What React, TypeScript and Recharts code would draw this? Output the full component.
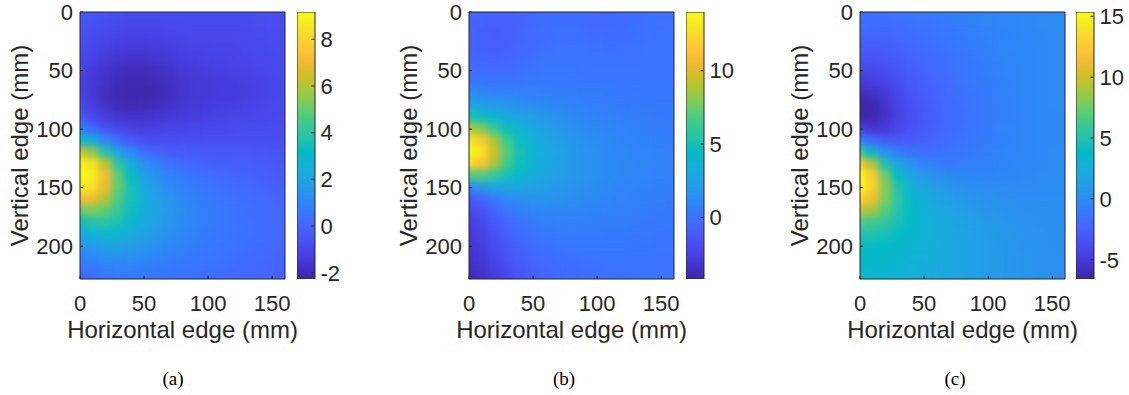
import React from 'react';
import { ScatterChart, Scatter, XAxis, YAxis, BarChart, Bar } from 'recharts';

// ---------- data ----------
const xPositions = [0, 10, 20, 30, 40, 50, 60, 70, 80, 90, 100, 110, 120, 130, 140, 150, 160];
const yPositions = [0, 10, 20, 30, 40, 50, 60, 70, 80, 90, 100, 110, 120, 130, 140, 150, 160, 170, 180, 190, 200, 210, 220, 230];
const xTicks = [0, 50, 100, 150];
const yTicks = [0, 50, 100, 150, 200];
const xDomain = [0, 160];
const yDomain = [0, 228];

// rows follow yPositions, columns follow xPositions
const valuesA = [
  [-0.45, -0.55, -0.65, -0.75, -0.8, -0.8, -0.8, -0.8, -0.8, -0.8, -0.8, -0.8, -0.8, -0.8, -0.8, -0.8, -0.8],
  [-0.55, -0.65, -0.8, -0.9, -1.0, -1.0, -1.0, -0.95, -0.9, -0.9, -0.9, -0.9, -0.9, -0.9, -0.85, -0.8, -0.8],
  [-0.7, -0.85, -1.0, -1.1, -1.2, -1.2, -1.15, -1.1, -1.05, -1.0, -1.0, -1.0, -1.0, -0.95, -0.9, -0.85, -0.85],
  [-0.85, -1.0, -1.2, -1.3, -1.4, -1.4, -1.35, -1.3, -1.2, -1.1, -1.1, -1.05, -1.05, -1.0, -0.95, -0.9, -0.85],
  [-1.0, -1.2, -1.45, -1.6, -1.7, -1.7, -1.6, -1.5, -1.35, -1.25, -1.2, -1.15, -1.1, -1.05, -1.0, -0.95, -0.9],
  [-1.1, -1.4, -1.7, -1.85, -1.95, -1.95, -1.85, -1.7, -1.5, -1.4, -1.3, -1.25, -1.2, -1.15, -1.05, -1.0, -0.95],
  [-1.15, -1.5, -1.85, -2.05, -2.15, -2.15, -2.05, -1.85, -1.65, -1.5, -1.45, -1.4, -1.35, -1.25, -1.15, -1.05, -1.0],
  [-1.1, -1.5, -1.9, -2.1, -2.2, -2.2, -2.1, -1.9, -1.65, -1.5, -1.45, -1.4, -1.4, -1.3, -1.2, -1.05, -1.0],
  [-0.9, -1.35, -1.75, -2.0, -2.1, -2.05, -1.95, -1.75, -1.55, -1.45, -1.4, -1.35, -1.3, -1.2, -1.1, -1.0, -0.95],
  [-0.4, -0.95, -1.35, -1.6, -1.7, -1.7, -1.6, -1.5, -1.4, -1.3, -1.25, -1.2, -1.1, -1.05, -1.0, -0.95, -0.9],
  [0.8, 0.1, -0.6, -1.0, -1.2, -1.25, -1.2, -1.1, -1.05, -1.0, -0.95, -0.95, -0.9, -0.85, -0.85, -0.8, -0.8],
  [3.2, 2.4, 1.1, 0.2, -0.4, -0.7, -0.8, -0.8, -0.75, -0.75, -0.7, -0.7, -0.7, -0.7, -0.7, -0.7, -0.7],
  [6.5, 5.5, 3.7, 2.1, 1.0, 0.3, -0.1, -0.3, -0.4, -0.45, -0.5, -0.5, -0.5, -0.5, -0.55, -0.6, -0.6],
  [9.0, 8.3, 6.2, 4.0, 2.4, 1.4, 0.8, 0.4, 0.15, -0.05, -0.15, -0.2, -0.25, -0.3, -0.35, -0.4, -0.45],
  [9.2, 8.8, 7.2, 4.9, 3.2, 2.0, 1.3, 0.9, 0.6, 0.35, 0.2, 0.05, -0.05, -0.1, -0.2, -0.3, -0.35],
  [8.8, 8.4, 6.9, 5.0, 3.5, 2.4, 1.7, 1.2, 0.9, 0.6, 0.45, 0.3, 0.15, 0.05, -0.05, -0.15, -0.2],
  [7.2, 7.0, 6.0, 4.6, 3.5, 2.6, 1.9, 1.5, 1.1, 0.8, 0.6, 0.45, 0.3, 0.2, 0.1, 0.0, -0.1],
  [5.0, 5.3, 4.9, 4.2, 3.4, 2.6, 2.0, 1.6, 1.2, 0.9, 0.7, 0.5, 0.35, 0.25, 0.15, 0.05, 0.0],
  [3.3, 3.8, 3.9, 3.6, 3.0, 2.4, 1.9, 1.5, 1.15, 0.9, 0.7, 0.5, 0.4, 0.3, 0.2, 0.1, 0.0],
  [2.2, 2.7, 2.9, 2.8, 2.4, 2.0, 1.6, 1.3, 1.05, 0.8, 0.6, 0.5, 0.4, 0.3, 0.2, 0.1, 0.0],
  [1.4, 1.8, 2.0, 2.0, 1.8, 1.6, 1.3, 1.05, 0.85, 0.7, 0.55, 0.45, 0.35, 0.25, 0.15, 0.05, -0.05],
  [0.8, 1.1, 1.3, 1.35, 1.25, 1.1, 0.95, 0.8, 0.65, 0.55, 0.45, 0.35, 0.25, 0.15, 0.05, 0.0, -0.1],
  [0.3, 0.5, 0.7, 0.75, 0.75, 0.7, 0.6, 0.5, 0.45, 0.4, 0.3, 0.25, 0.15, 0.05, 0.0, -0.05, -0.15],
  [0.0, 0.15, 0.3, 0.4, 0.4, 0.4, 0.35, 0.3, 0.3, 0.25, 0.2, 0.15, 0.05, 0.0, -0.05, -0.1, -0.2],
];

const valuesB = [
  [-0.6, -0.7, -0.8, -0.8, -0.7, -0.5, -0.3, -0.2, -0.2, -0.3, -0.45, -0.5, -0.4, -0.2, -0.1, -0.1, -0.1],
  [-0.7, -0.8, -0.9, -0.9, -0.75, -0.5, -0.3, -0.15, -0.15, -0.3, -0.45, -0.5, -0.4, -0.2, -0.1, -0.05, 0.0],
  [-0.75, -0.85, -0.95, -0.9, -0.7, -0.45, -0.25, -0.1, -0.1, -0.2, -0.3, -0.35, -0.3, -0.15, -0.05, 0.0, 0.0],
  [-0.75, -0.85, -0.9, -0.85, -0.6, -0.35, -0.15, -0.05, 0.0, -0.05, -0.1, -0.15, -0.1, -0.05, 0.0, 0.0, 0.05],
  [-0.6, -0.7, -0.75, -0.65, -0.45, -0.2, 0.0, 0.05, 0.05, 0.05, 0.0, 0.0, 0.0, 0.0, 0.05, 0.05, 0.05],
  [-0.3, -0.4, -0.45, -0.35, -0.2, 0.0, 0.1, 0.15, 0.15, 0.1, 0.1, 0.1, 0.1, 0.1, 0.1, 0.1, 0.1],
  [0.3, 0.2, 0.1, 0.1, 0.15, 0.25, 0.3, 0.3, 0.25, 0.2, 0.2, 0.2, 0.15, 0.15, 0.15, 0.15, 0.15],
  [1.3, 1.1, 0.9, 0.8, 0.7, 0.65, 0.6, 0.55, 0.5, 0.45, 0.4, 0.35, 0.3, 0.25, 0.2, 0.2, 0.2],
  [3.0, 2.6, 2.2, 1.9, 1.6, 1.35, 1.15, 0.95, 0.8, 0.65, 0.55, 0.5, 0.45, 0.4, 0.35, 0.3, 0.3],
  [5.3, 4.7, 3.9, 3.2, 2.7, 2.25, 1.85, 1.5, 1.25, 1.0, 0.85, 0.7, 0.6, 0.55, 0.45, 0.4, 0.35],
  [9.0, 8.0, 6.2, 4.7, 3.8, 3.0, 2.45, 2.0, 1.6, 1.3, 1.1, 0.9, 0.8, 0.7, 0.6, 0.5, 0.45],
  [13.0, 11.6, 8.8, 6.3, 4.7, 3.7, 2.9, 2.35, 1.9, 1.55, 1.3, 1.1, 0.9, 0.8, 0.7, 0.6, 0.55],
  [14.0, 13.0, 9.8, 7.0, 5.1, 3.9, 3.1, 2.5, 2.0, 1.65, 1.4, 1.2, 1.0, 0.9, 0.8, 0.7, 0.65],
  [12.5, 11.3, 8.8, 6.4, 4.8, 3.8, 3.0, 2.45, 2.0, 1.7, 1.45, 1.2, 1.05, 0.95, 0.85, 0.75, 0.7],
  [7.0, 6.9, 6.1, 5.0, 4.0, 3.3, 2.75, 2.3, 1.95, 1.65, 1.4, 1.2, 1.05, 0.9, 0.8, 0.7, 0.65],
  [1.2, 2.0, 2.7, 2.9, 2.8, 2.55, 2.2, 1.95, 1.7, 1.45, 1.25, 1.1, 0.95, 0.8, 0.7, 0.6, 0.55],
  [-1.5, -0.6, 0.4, 1.1, 1.5, 1.65, 1.65, 1.55, 1.4, 1.25, 1.1, 0.95, 0.8, 0.7, 0.6, 0.5, 0.45],
  [-2.3, -1.6, -0.7, 0.1, 0.6, 0.9, 1.0, 1.05, 1.0, 0.95, 0.85, 0.75, 0.65, 0.55, 0.45, 0.4, 0.35],
  [-2.7, -2.1, -1.3, -0.5, 0.0, 0.35, 0.55, 0.65, 0.7, 0.65, 0.6, 0.55, 0.5, 0.4, 0.35, 0.3, 0.25],
  [-3.0, -2.4, -1.7, -0.95, -0.4, -0.05, 0.2, 0.35, 0.4, 0.4, 0.4, 0.35, 0.35, 0.3, 0.25, 0.2, 0.2],
  [-3.2, -2.7, -2.0, -1.3, -0.75, -0.35, -0.1, 0.05, 0.15, 0.2, 0.2, 0.2, 0.2, 0.15, 0.15, 0.1, 0.1],
  [-3.4, -2.9, -2.3, -1.6, -1.0, -0.6, -0.35, -0.2, -0.1, 0.0, 0.05, 0.05, 0.05, 0.05, 0.05, 0.05, 0.05],
  [-3.7, -3.2, -2.6, -1.9, -1.3, -0.85, -0.55, -0.4, -0.3, -0.2, -0.1, -0.05, 0.0, 0.0, 0.0, 0.0, 0.0],
  [-4.0, -3.5, -2.9, -2.15, -1.5, -1.05, -0.75, -0.55, -0.45, -0.35, -0.25, -0.15, -0.1, -0.05, -0.05, 0.0, 0.0],
];

const valuesC = [
  [-1.5, -1.6, -1.6, -1.5, -1.35, -1.2, -1.1, -0.9, -0.7, -0.55, -0.4, -0.3, -0.2, -0.1, -0.05, 0.0, 0.0],
  [-1.8, -1.9, -1.9, -1.75, -1.6, -1.45, -1.25, -1.05, -0.85, -0.65, -0.5, -0.35, -0.25, -0.15, -0.05, 0.0, 0.0],
  [-2.2, -2.3, -2.25, -2.1, -1.9, -1.7, -1.5, -1.25, -1.0, -0.8, -0.6, -0.45, -0.3, -0.2, -0.1, -0.05, 0.0],
  [-2.7, -2.8, -2.7, -2.5, -2.2, -1.95, -1.7, -1.45, -1.15, -0.9, -0.7, -0.5, -0.35, -0.25, -0.15, -0.05, 0.0],
  [-3.3, -3.4, -3.2, -2.9, -2.5, -2.2, -1.9, -1.6, -1.3, -1.05, -0.8, -0.6, -0.4, -0.25, -0.15, -0.05, 0.0],
  [-4.0, -4.0, -3.7, -3.3, -2.8, -2.4, -2.05, -1.75, -1.4, -1.15, -0.9, -0.65, -0.45, -0.3, -0.15, -0.05, 0.0],
  [-4.9, -4.8, -4.4, -3.7, -3.1, -2.65, -2.25, -1.9, -1.5, -1.2, -0.95, -0.7, -0.5, -0.3, -0.15, -0.05, 0.0],
  [-5.8, -5.7, -5.0, -4.1, -3.4, -2.85, -2.4, -2.0, -1.6, -1.3, -1.0, -0.75, -0.5, -0.3, -0.15, -0.05, 0.0],
  [-6.5, -6.4, -5.5, -4.4, -3.6, -3.0, -2.5, -2.05, -1.65, -1.35, -1.05, -0.8, -0.55, -0.35, -0.2, -0.05, 0.0],
  [-6.5, -6.4, -5.6, -4.5, -3.65, -3.05, -2.55, -2.1, -1.7, -1.35, -1.05, -0.8, -0.55, -0.35, -0.2, -0.1, 0.0],
  [-4.8, -5.2, -5.0, -4.2, -3.5, -2.95, -2.5, -2.05, -1.65, -1.3, -1.0, -0.75, -0.5, -0.35, -0.2, -0.1, 0.0],
  [-0.5, -2.0, -3.0, -3.1, -2.9, -2.55, -2.2, -1.85, -1.5, -1.2, -0.95, -0.7, -0.5, -0.3, -0.2, -0.1, 0.0],
  [6.0, 3.3, 0.4, -1.0, -1.6, -1.8, -1.7, -1.5, -1.3, -1.05, -0.8, -0.6, -0.45, -0.3, -0.15, -0.05, 0.0],
  [12.0, 9.0, 4.8, 1.9, 0.3, -0.5, -0.85, -0.95, -0.9, -0.8, -0.65, -0.5, -0.35, -0.2, -0.1, 0.0, 0.0],
  [15.3, 12.6, 7.5, 3.9, 2.0, 0.9, 0.3, -0.1, -0.3, -0.4, -0.4, -0.35, -0.25, -0.15, -0.05, 0.0, 0.05],
  [15.3, 13.0, 8.3, 4.9, 3.0, 1.9, 1.2, 0.7, 0.35, 0.15, 0.0, -0.05, -0.05, 0.0, 0.05, 0.1, 0.1],
  [13.0, 11.4, 8.0, 5.3, 3.6, 2.5, 1.8, 1.3, 0.9, 0.6, 0.4, 0.3, 0.2, 0.15, 0.15, 0.15, 0.15],
  [9.3, 8.8, 7.0, 5.1, 3.8, 2.9, 2.2, 1.7, 1.3, 1.0, 0.75, 0.55, 0.4, 0.3, 0.25, 0.2, 0.2],
  [6.5, 6.3, 5.6, 4.6, 3.7, 3.0, 2.4, 1.95, 1.55, 1.2, 0.95, 0.75, 0.55, 0.4, 0.3, 0.25, 0.2],
  [4.9, 4.9, 4.6, 4.0, 3.4, 2.9, 2.45, 2.05, 1.65, 1.35, 1.05, 0.85, 0.65, 0.5, 0.35, 0.3, 0.25],
  [4.0, 4.0, 3.8, 3.5, 3.1, 2.75, 2.4, 2.05, 1.7, 1.4, 1.1, 0.9, 0.7, 0.55, 0.4, 0.3, 0.25],
  [3.6, 3.6, 3.4, 3.2, 2.9, 2.6, 2.3, 2.0, 1.7, 1.4, 1.15, 0.95, 0.75, 0.6, 0.45, 0.35, 0.3],
  [3.4, 3.4, 3.2, 3.0, 2.75, 2.5, 2.2, 1.95, 1.7, 1.4, 1.15, 0.95, 0.75, 0.6, 0.45, 0.35, 0.3],
  [3.3, 3.3, 3.1, 2.9, 2.65, 2.4, 2.15, 1.9, 1.65, 1.4, 1.15, 0.95, 0.75, 0.6, 0.45, 0.35, 0.3],
];

const colorRangeA = [-2.27, 9.17];
const colorRangeB = [-4.2, 14.0];
const colorRangeC = [-6.58, 15.35];
const colorTicksA = [-2, 0, 2, 4, 6, 8];
const colorTicksB = [0, 5, 10];
const colorTicksC = [-5, 0, 5, 10, 15];
const captions = ['(a)', '(b)', '(c)'];
const xTitle = 'Horizontal edge (mm)';
const yTitle = 'Vertical edge (mm)';

// ---------- style ----------
const PARULA = [
  [0.2422, 0.1504, 0.6603], [0.2647, 0.1978, 0.7952], [0.2783, 0.2559, 0.8991], [0.281, 0.3228, 0.9579],
  [0.2699, 0.3892, 0.9906], [0.2206, 0.4603, 0.9973], [0.1786, 0.5289, 0.9682], [0.154, 0.5902, 0.9218],
  [0.1248, 0.6459, 0.8883], [0.0689, 0.6948, 0.8394], [0.0067, 0.7312, 0.766], [0.1408, 0.7584, 0.6842],
  [0.2161, 0.7843, 0.5923], [0.3406, 0.8008, 0.4789], [0.5044, 0.7993, 0.348], [0.672, 0.7793, 0.2227],
  [0.8203, 0.7498, 0.1535], [0.9393, 0.7288, 0.21], [0.997, 0.7659, 0.2199], [0.9786, 0.8386, 0.1766],
  [0.9597, 0.9135, 0.1423], [0.9769, 0.9839, 0.0805],
];
const FONT = '"Liberation Sans", Arial, Helvetica, sans-serif';
const INK = '#262626';
const TICK_FS = 22;
const TITLE_FS = 24;
const PLOT_LEFT = 80;
const PLOT_TOP = 12;
const PLOT_W = 205;
const PLOT_H = 267;
const CHART_W = 290;
const CHART_H = 395;
const MIRROR = 1; // size of the mirrored (top / right) tick-only axes
const PLOT_BOTTOM_MARGIN = CHART_H - PLOT_TOP - PLOT_H;
const CB_W = 17.5;
const CB_AXIS_W = 42;

const rgbStr = (c: number[]) =>
  `rgb(${Math.round(c[0] * 255)},${Math.round(c[1] * 255)},${Math.round(c[2] * 255)})`;

const colorFor = (v: number, range: number[]) => {
  let t = (v - range[0]) / (range[1] - range[0]);
  t = Math.max(0, Math.min(1, t));
  const pos = t * (PARULA.length - 1);
  const i = Math.min(PARULA.length - 2, Math.floor(pos));
  const f = pos - i;
  const a = PARULA[i];
  const b = PARULA[i + 1];
  return rgbStr([a[0] + (b[0] - a[0]) * f, a[1] + (b[1] - a[1]) * f, a[2] + (b[2] - a[2]) * f]);
};

const buildCells = (values: number[][]) =>
  values.flatMap((row, i) => row.map((v, j) => ({ x: xPositions[j], y: yPositions[i], v })));

const CELL_W = (PLOT_W * (xPositions[1] - xPositions[0])) / (xDomain[1] - xDomain[0]);
const CELL_H = (PLOT_H * (yPositions[1] - yPositions[0])) / (yDomain[1] - yDomain[0]);
const EDGE_PAD = 14;

const makeCellShape = (range: number[]) => (props: any) => {
  const { cx, cy, payload } = props;
  if (cx == null || cy == null || !payload) return <g />;
  let x0 = cx - CELL_W / 2 - 0.6;
  let x1 = cx + CELL_W / 2 + 0.6;
  let y0 = cy - CELL_H / 2 - 0.6;
  let y1 = cy + CELL_H / 2 + 0.6;
  if (payload.x === xPositions[0]) x0 -= EDGE_PAD;
  if (payload.x === xPositions[xPositions.length - 1]) x1 += EDGE_PAD;
  if (payload.y === yPositions[0]) y0 -= EDGE_PAD;
  if (payload.y === yPositions[yPositions.length - 1]) y1 += EDGE_PAD;
  return <rect x={x0} y={y0} width={x1 - x0} height={y1 - y0} fill={colorFor(payload.v, range)} />;
};

const tickStyle = { fill: INK, fontSize: TICK_FS, fontFamily: FONT };

type PanelProps = {
  values: number[][];
  range: number[];
  colorTicks: number[];
  chartLeft: number;
  cbLeft: number;
  caption: string;
  captionX: number;
};

const Panel = ({ values, range, colorTicks, chartLeft, cbLeft, caption, captionX }: PanelProps) => {
  const cells = buildCells(values);
  const cbData = [{ name: 'cb', span: range }];
  return (
    <>
      <div style={{ position: 'absolute', left: chartLeft, top: 0 }}>
        <ScatterChart
          width={CHART_W}
          height={CHART_H}
          margin={{ top: PLOT_TOP - MIRROR, right: CHART_W - PLOT_LEFT - PLOT_W - MIRROR, bottom: 0, left: 0 }}
        >
          <Scatter
            data={cells}
            xAxisId="bottom"
            yAxisId="left"
            zIndex={-100}
            className="heatmap-layer"
            shape={makeCellShape(range)}
            isAnimationActive={false}
          />
          <XAxis
            xAxisId="bottom"
            type="number"
            dataKey="x"
            domain={xDomain}
            allowDataOverflow
            ticks={xTicks}
            interval={0}
            height={PLOT_BOTTOM_MARGIN}
            tickSize={-3}
            tickMargin={19}
            stroke={INK}
            tick={tickStyle}
          />
          <XAxis
            xAxisId="top"
            orientation="top"
            type="number"
            domain={xDomain}
            allowDataOverflow
            ticks={xTicks}
            interval={0}
            height={MIRROR}
            tickSize={-3}
            stroke={INK}
            tick={false}
          />
          <YAxis
            yAxisId="left"
            type="number"
            dataKey="y"
            domain={yDomain}
            allowDataOverflow
            reversed
            ticks={yTicks}
            interval={0}
            width={PLOT_LEFT}
            tickSize={-3}
            tickMargin={10}
            stroke={INK}
            tick={tickStyle}
          />
          <YAxis
            yAxisId="right"
            orientation="right"
            type="number"
            domain={yDomain}
            allowDataOverflow
            reversed
            ticks={yTicks}
            interval={0}
            width={MIRROR}
            tickSize={-3}
            stroke={INK}
            tick={false}
          />
        </ScatterChart>
      </div>
      <div style={{ position: 'absolute', left: cbLeft, top: 0 }}>
        <BarChart
          width={CB_W + CB_AXIS_W}
          height={CHART_H}
          data={cbData}
          margin={{ top: PLOT_TOP, right: 0, bottom: PLOT_BOTTOM_MARGIN, left: 0 }}
          barCategoryGap={0}
          barGap={0}
        >
          <XAxis dataKey="name" hide />
          <Bar dataKey="span" fill="url(#parulaGrad)" stroke={INK} strokeWidth={1} zIndex={-100} isAnimationActive={false} />
          <YAxis
            orientation="right"
            type="number"
            domain={range}
            allowDataOverflow
            ticks={colorTicks}
            interval={0}
            width={CB_AXIS_W}
            tickSize={-3}
            tickMargin={9}
            stroke={INK}
            axisLine={false}
            tick={tickStyle}
          />
        </BarChart>
      </div>
      <svg
        width={1129}
        height={395}
        style={{ position: 'absolute', left: 0, top: 0, pointerEvents: 'none', overflow: 'visible' }}
      >
        <text
          x={chartLeft + 28}
          y={PLOT_TOP + PLOT_H / 2}
          transform={`rotate(-90 ${chartLeft + 28} ${PLOT_TOP + PLOT_H / 2})`}
          textAnchor="middle"
          fontFamily={FONT}
          fontSize={TITLE_FS}
          fill={INK}
        >
          {yTitle}
        </text>
        <text
          x={chartLeft + PLOT_LEFT + PLOT_W / 2}
          y={338}
          textAnchor="middle"
          fontFamily={FONT}
          fontSize={TITLE_FS}
          fill={INK}
        >
          {xTitle}
        </text>
        <text
          x={captionX}
          y={385}
          textAnchor="middle"
          fontFamily='"Liberation Serif", "DejaVu Serif", serif'
          fontSize={19}
          fill="#000"
        >
          {caption}
        </text>
      </svg>
    </>
  );
};

export default function App() {
  return (
    <div style={{ position: 'absolute', left: 0, top: 0, width: 1129, height: 395, background: '#fff', overflow: 'hidden' }}>
      <style>{`.heatmap-layer{filter:url(#heatBlur);clip-path:url(#plotClip);}`}</style>
      <svg width={0} height={0} style={{ position: 'absolute' }}>
        <defs>
          <linearGradient id="parulaGrad" x1="0" y1="1" x2="0" y2="0">
            {PARULA.map((c, i) => (
              <stop key={i} offset={i / (PARULA.length - 1)} stopColor={rgbStr(c)} />
            ))}
          </linearGradient>
          <filter id="heatBlur" x="-10%" y="-10%" width="120%" height="120%" colorInterpolationFilters="sRGB">
            <feGaussianBlur stdDeviation={3.5} />
          </filter>
          <clipPath id="plotClip">
            <rect x={PLOT_LEFT} y={PLOT_TOP} width={PLOT_W} height={PLOT_H} />
          </clipPath>
        </defs>
      </svg>
      <Panel values={valuesA} range={colorRangeA} colorTicks={colorTicksA} chartLeft={0} cbLeft={297} caption={captions[0]} captionX={173} />
      <Panel values={valuesB} range={colorRangeB} colorTicks={colorTicksB} chartLeft={389} cbLeft={686} caption={captions[1]} captionX={564} />
      <Panel values={valuesC} range={colorRangeC} colorTicks={colorTicksC} chartLeft={780} cbLeft={1076} caption={captions[2]} captionX={955} />
    </div>
  );
}
